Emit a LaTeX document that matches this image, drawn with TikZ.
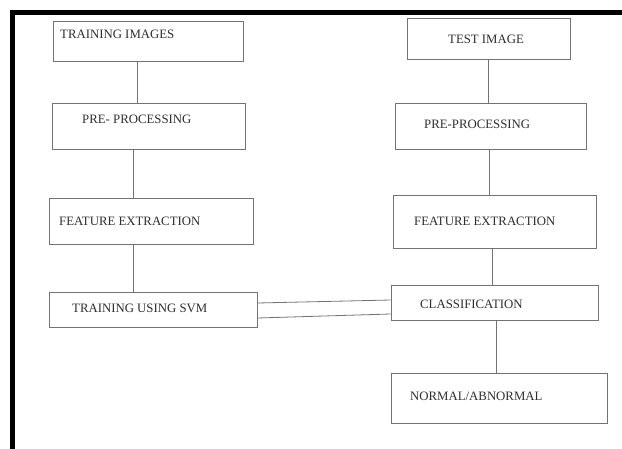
\documentclass[tikz,border=0pt]{standalone}
\usepackage{fontspec}
\setmainfont{Liberation Serif}
\begin{document}
\begin{tikzpicture}[x=1pt,y=-1pt,
  box/.style={draw=black!55,line width=0.8pt,rectangle,inner sep=0pt,anchor=center},
  lbl/.style={anchor=base west,inner sep=0pt,text=black!82,font=\fontsize{12.8}{14}\selectfont},
  link/.style={draw=black!55,line width=0.8pt}]
\useasboundingbox[fill=white] (0,0) rectangle (622,448);
% frame
\draw[line width=5pt,line cap=rect] (12.5,448) -- (12.5,12.5) -- (622,12.5);
% left column
\node[box,minimum width=190,minimum height=40] (ti) at (148,41) {};
\node[box,minimum width=193,minimum height=46] (pp1) at (148.5,126) {};
\node[box,minimum width=204,minimum height=46] (fe1) at (151,221) {};
\node[box,minimum width=208,minimum height=35] (svm) at (153,309.5) {};
% right column
\node[box,minimum width=163,minimum height=41] (te) at (488.5,38.5) {};
\node[box,minimum width=191,minimum height=46] (pp2) at (490.5,126) {};
\node[box,minimum width=203,minimum height=53] (fe2) at (494.5,221.5) {};
\node[box,minimum width=207,minimum height=35] (cls) at (494.5,302.5) {};
\node[box,minimum width=216,minimum height=50] (na) at (499,398) {};
% labels
\node[lbl] (tti) at (60,38.5) {TRAINING IMAGES};
\node[lbl] (tpp1) at (82,123.5) {PRE- PROCESSING};
\node[lbl] (tfe1) at (59,225) {FEATURE EXTRACTION};
\node[lbl] (tsvm) at (72,312.5) {TRAINING USING SVM};
\node[lbl] (tte) at (448,43.5) {TEST IMAGE};
\node[lbl] (tpp2) at (424,128.5) {PRE-PROCESSING};
\node[lbl] (tfe2) at (414,225.5) {FEATURE EXTRACTION};
\node[lbl] (tcls) at (420,308.5) {CLASSIFICATION};
\node[lbl] (tna) at (410,400.5) {NORMAL/ABNORMAL};
% connectors left
\draw[link] (ti.south -| 137,0) -- (pp1.north -| 137,0);
\draw[link] (pp1.south -| 133,0) -- (fe1.north -| 133,0);
\draw[link] (fe1.south -| 133,0) -- (svm.north -| 133,0);
% connectors right
\draw[link] (te.south -| 488,0) -- (pp2.north -| 488,0);
\draw[link] (pp2.south -| 489,0) -- (fe2.north -| 489,0);
\draw[link] (fe2.south -| 492,0) -- (cls.north -| 492,0);
\draw[link] (cls.south -| 496,0) -- (na.north -| 496,0);
% double link
\draw[link] (svm.east |- 0,303) -- (cls.west |- 0,300);
\draw[link] (svm.east |- 0,318) -- (cls.west |- 0,314);
\end{tikzpicture}
\end{document}
